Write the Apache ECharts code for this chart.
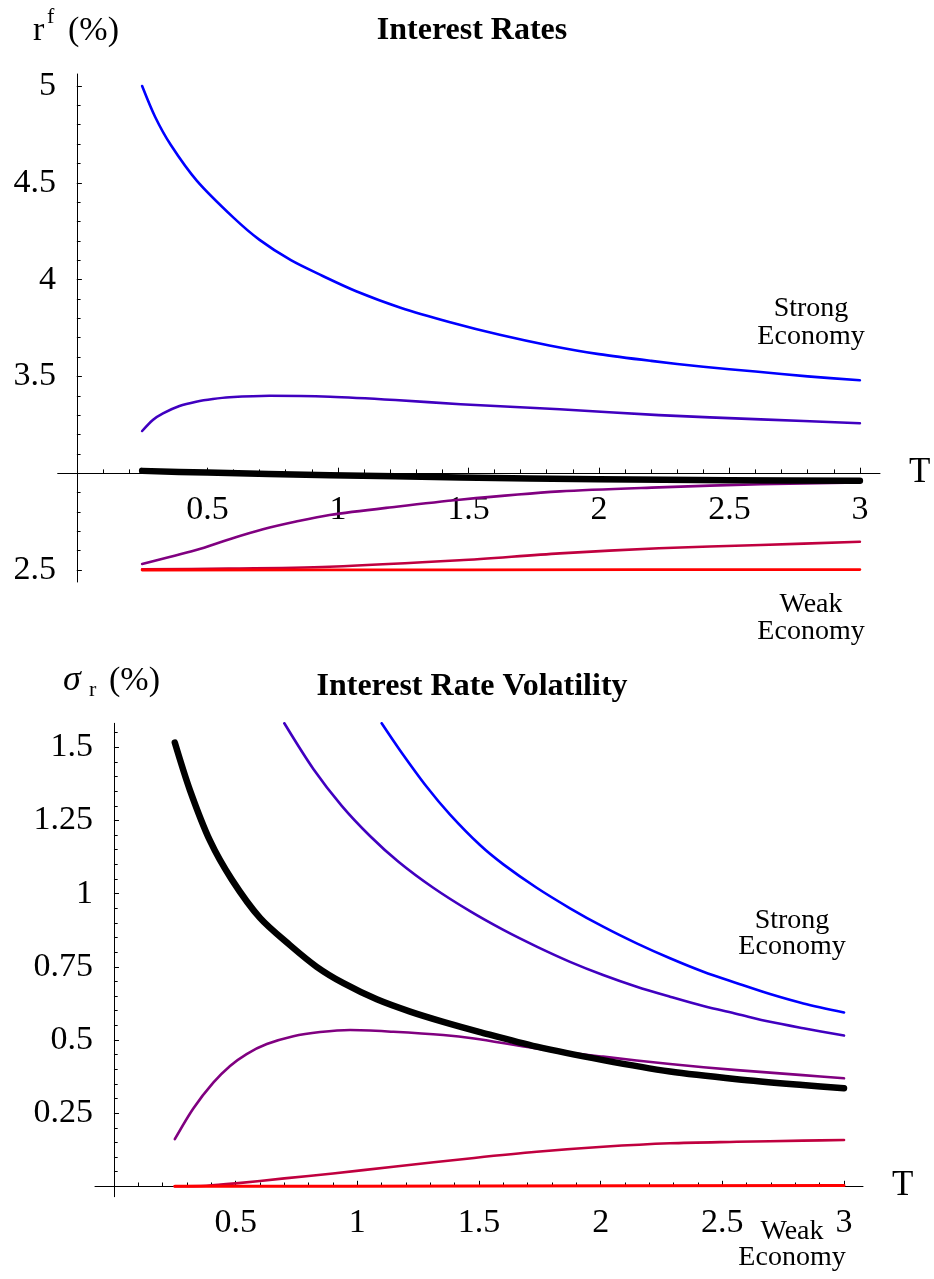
<!DOCTYPE html>
<html><head><meta charset="utf-8">
<script src="https://cdn.jsdelivr.net/npm/echarts@6/dist/echarts.min.js"></script>
<style>html,body{margin:0;padding:0;background:#fff}#c{width:934px;height:1279px}</style>
</head><body><div id="c"></div><script>
// ---------- DATA: top panel (interest rates, %) ----------
const topBlueT   = [0.25,0.30,0.36,0.46,0.60,0.70,0.82,0.94,1.07,1.24,1.43,1.62,1.81,2.00,2.20,2.40,2.60,2.80,3.00];
const topBlueV   = [5.00,4.84,4.695,4.51,4.32,4.205,4.10,4.02,3.94,3.855,3.78,3.715,3.66,3.615,3.58,3.55,3.525,3.50,3.48];
const topVioletT = [0.25,0.291,0.33,0.393,0.457,0.521,0.585,0.738,0.97,1.22,1.47,1.85,2.23,2.62,3.00];
const topVioletV = [3.218,3.275,3.309,3.347,3.369,3.383,3.392,3.40,3.395,3.378,3.356,3.33,3.30,3.278,3.258];
const topBlackT  = [0.25,0.50,0.97,1.47,2.00,2.50,3.00];
const topBlackV  = [3.012,3.003,2.99,2.978,2.969,2.964,2.961];
const topPurpleT = [0.25,0.457,0.585,0.713,0.84,0.968,1.224,1.466,1.85,2.23,2.62,3.00];
const topPurpleV = [2.531,2.603,2.659,2.71,2.75,2.784,2.827,2.863,2.906,2.927,2.943,2.952];
const topCrimT   = [0.25,0.58,0.968,1.466,1.85,2.23,2.62,3.00];
const topCrimV   = [2.504,2.507,2.517,2.55,2.586,2.612,2.629,2.646];
const topRedT    = [0.25,1.50,3.00];
const topRedV    = [2.50,2.501,2.502];

// ---------- DATA: bottom panel (interest rate volatility, %) ----------
const botBlueT   = [1.10,1.175,1.285,1.381,1.504,1.60,1.737,1.874,2.01,2.148,2.285,2.422,2.56,2.696,2.833,3.00];
const botBlueV   = [1.582,1.49,1.365,1.27,1.166,1.10,1.02,0.95,0.887,0.83,0.779,0.733,0.694,0.657,0.625,0.594];
const botVioletT = [0.70,0.82,0.936,1.052,1.169,1.312,1.463,1.60,1.737,1.874,2.01,2.148,2.285,2.422,2.56,2.696,2.833,3.00];
const botVioletV = [1.582,1.425,1.30,1.197,1.109,1.02,0.94,0.876,0.819,0.767,0.722,0.682,0.648,0.616,0.589,0.562,0.54,0.515];
const botBlackT  = [0.25,0.312,0.395,0.485,0.60,0.723,0.833,0.943,1.08,1.217,1.353,1.50,1.737,2.01,2.285,2.56,2.83,3.00];
const botBlackV  = [1.516,1.354,1.18,1.047,0.917,0.824,0.75,0.694,0.639,0.597,0.562,0.528,0.477,0.431,0.392,0.366,0.346,0.335];
const botPurpleT = [0.25,0.326,0.408,0.477,0.545,0.628,0.737,0.847,0.97,1.148,1.353,1.48,1.737,2.01,2.285,2.56,2.83,3.00];
const botPurpleV = [0.161,0.266,0.354,0.411,0.452,0.486,0.513,0.527,0.534,0.528,0.517,0.505,0.471,0.443,0.418,0.397,0.38,0.369];
const botCrimT   = [0.25,0.38,0.50,0.70,0.90,1.148,1.48,1.737,2.01,2.285,2.56,2.83,3.00];
const botCrimV   = [0.0,0.002,0.01,0.027,0.044,0.067,0.097,0.118,0.135,0.147,0.152,0.156,0.158];
const botRedT    = [0.25,1.50,3.00];
const botRedV    = [0.0,0.001,0.003];

// ---------- tick labels ----------
const topXLabels = [0.5,1,1.5,2,2.5,3];
const topYLabels = [2.5,3.5,4,4.5,5];
const botXLabels = [0.5,1,1.5,2,2.5,3];
const botYLabels = [0.25,0.5,0.75,1,1.25,1.5];

function steps(a, b, s){ const r=[]; for(let k=Math.round(a/s); k<=Math.round(b/s); k++) r.push(+(k*s).toFixed(4)); return r; }
const topXMinor = steps(0.1, 3.0, 0.1);
const topYMinor = steps(2.5, 5.0, 0.1);
const botXMinor = steps(0.1, 3.0, 0.1);
const botYMinor = steps(0.05, 1.55, 0.05);

// ---------- layout ----------
const FONT = 'Liberation Serif';
const G = [
  {left:57.7, top:74, width:822.3, height:508, xmin:-0.0735, xmax:3.077, ymin:2.438, ymax:5.062, xCross:3, yCross:0},
  {left:95, top:723.3, width:768, height:473.4, xmin:-0.078, xmax:3.078, ymin:-0.0355, ymax:1.582, xCross:0, yCross:0}
];
const COL = {blue:'#0000ff', violet:'#4000c0', purple:'#800080', crim:'#c0003f', red:'#ff0000', black:'#000000'};

function xAxes(gi, labels, minor){
  const g = G[gi];
  const off = -((g.xCross - g.ymin)/(g.ymax - g.ymin))*g.height;
  const base = {type:'value', gridIndex:gi, min:g.xmin, max:g.xmax, position:'bottom', offset:off,
    splitLine:{show:false}};
  return [
    Object.assign({}, base, {
      axisLine:{show:true, onZero:false, lineStyle:{color:'#000', width:1}},
      axisTick:{show:true, inside:true, length:5.5, customValues:labels, lineStyle:{color:'#000', width:1}},
      axisLabel:{show:true, customValues:labels, margin:20, fontFamily:FONT, fontSize:34, color:'#000'},
      name:'T', nameLocation:'end', nameGap:29,
      nameTextStyle:{fontFamily:FONT, fontSize:35, color:'#000', verticalAlign:'middle'}
    }),
    Object.assign({}, base, {
      axisLine:{show:false, onZero:false},
      axisTick:{show:true, inside:true, length:3.8, customValues:minor, lineStyle:{color:'#000', width:1}},
      axisLabel:{show:false}
    })
  ];
}
function yAxes(gi, labels, minor){
  const g = G[gi];
  const off = -((g.yCross - g.xmin)/(g.xmax - g.xmin))*g.width;
  const base = {type:'value', gridIndex:gi, min:g.ymin, max:g.ymax, position:'left', offset:off,
    splitLine:{show:false}};
  return [
    Object.assign({}, base, {
      axisLine:{show:true, onZero:false, lineStyle:{color:'#000', width:1}},
      axisTick:{show:true, inside:true, length:5, customValues:labels, lineStyle:{color:'#000', width:1}},
      axisLabel:{show:true, customValues:labels, margin:21, fontFamily:FONT, fontSize:34, color:'#000'}
    }),
    Object.assign({}, base, {
      axisLine:{show:false, onZero:false},
      axisTick:{show:true, inside:true, length:3.7, customValues:minor, lineStyle:{color:'#000', width:1}},
      axisLabel:{show:false}
    })
  ];
}
function pairs(T, V){ return T.map((t,i)=>[t, V[i]]); }
function line(name, gi, T, V, color, width){
  return {name, type:'line', xAxisIndex:gi*2, yAxisIndex:gi*2, data:pairs(T,V), smooth:0.3,
    symbol:'none', clip:true, silent:true,
    lineStyle:{color, width, cap:'round', join:'round'}};
}
function txt(x, y, text, size, opts){
  opts = opts || {};
  return {type:'text', x, y, silent:true, style:Object.assign({
    text, fill:'#000', fontFamily:FONT, fontSize:size,
    font: (opts.fs?opts.fs+' ':'') + (opts.fw?opts.fw+' ':'') + size+'px "'+FONT+'"',
    textAlign:opts.align||'left', align:opts.align||'left',
    textVerticalAlign:'middle', verticalAlign:'middle'
  }, opts.style||{})};
}

const chart = echarts.init(document.getElementById('c'), null, {renderer:'canvas'});
chart.setOption({
  backgroundColor:'#ffffff',
  animation:false,
  grid: G.map(g=>({left:g.left, top:g.top, width:g.width, height:g.height, show:false, containLabel:false, outerBoundsMode:'none'})),
  xAxis: [].concat(xAxes(0, topXLabels, topXMinor), xAxes(1, botXLabels, botXMinor)),
  yAxis: [].concat(yAxes(0, topYLabels, topYMinor), yAxes(1, botYLabels, botYMinor)),
  series: [
    line('Strong', 0, topBlueT, topBlueV, COL.blue, 2.6),
    line('Strong-mid', 0, topVioletT, topVioletV, COL.violet, 2.6),
    line('Mid-weak', 0, topPurpleT, topPurpleV, COL.purple, 2.6),
    line('Weak-mid', 0, topCrimT, topCrimV, COL.crim, 2.6),
    line('Weak', 0, topRedT, topRedV, COL.red, 2.8),
    line('Average', 0, topBlackT, topBlackV, COL.black, 6.5),
    line('Strong', 1, botBlueT, botBlueV, COL.blue, 2.6),
    line('Strong-mid', 1, botVioletT, botVioletV, COL.violet, 2.6),
    line('Mid-weak', 1, botPurpleT, botPurpleV, COL.purple, 2.6),
    line('Weak-mid', 1, botCrimT, botCrimV, COL.crim, 2.6),
    line('Weak', 1, botRedT, botRedV, COL.red, 3),
    line('Average', 1, botBlackT, botBlackV, COL.black, 6.5)
  ],
  graphic: [
    txt(472, 31, 'Interest Rates', 32, {align:'center', fw:'bold', style:{fontWeight:'bold'}}),
    txt(472, 687, 'Interest Rate Volatility', 32, {align:'center', fw:'bold', style:{fontWeight:'bold'}}),
    txt(33, 31, 'r', 34),
    txt(47, 17, 'f', 22),
    txt(68, 31, '(%)', 34),
    txt(63, 681, 'σ', 36, {fs:'italic', style:{fontStyle:'italic'}}),
    txt(89, 690, 'r', 22),
    txt(109, 681, '(%)', 34),
    txt(811, 308.5, 'Strong', 28, {align:'center'}),
    txt(811, 337, 'Economy', 28, {align:'center'}),
    txt(811, 604.5, 'Weak', 28, {align:'center'}),
    txt(811, 631.5, 'Economy', 28, {align:'center'}),
    txt(792, 920.5, 'Strong', 28, {align:'center'}),
    txt(792, 946.5, 'Economy', 28, {align:'center'}),
    txt(792, 1231.5, 'Weak', 28, {align:'center'}),
    txt(792, 1258, 'Economy', 28, {align:'center'})
  ]
});
</script></body></html>
